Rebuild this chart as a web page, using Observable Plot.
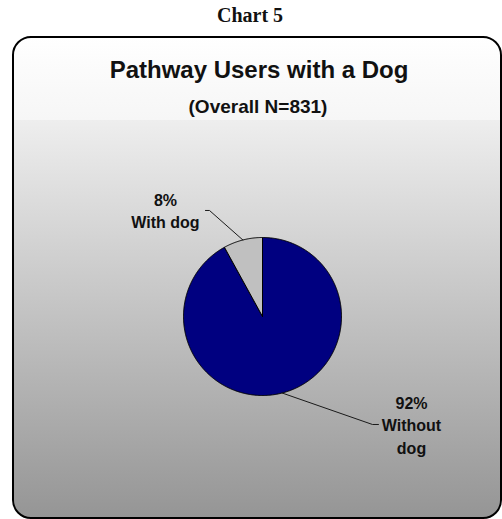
<!DOCTYPE html>
<html>
<head>
<meta charset="utf-8">
<script src="https://cdn.jsdelivr.net/npm/d3@7"></script>
<script src="https://cdn.jsdelivr.net/npm/@observablehq/plot@0.6"></script>
<style>
  html, body { margin: 0; padding: 0; background: #ffffff; }
  #wrap { position: relative; width: 502px; height: 519px; overflow: hidden; }
  #top { position: absolute; left: 0; top: 0; width: 502px; height: 30px;
         font-family: "Liberation Serif", "Times New Roman", serif; font-weight: bold;
         font-size: 20px; line-height: 20px; }
  #top span { position: absolute; left: 0; width: 500px; text-align: center; top: 5px; color: #111; }
  #chart { position: absolute; left: 0; top: 30px; }
</style>
</head>
<body>
<div id="wrap">
  <div id="top"><span>Chart 5</span></div>
  <div id="chart"></div>
</div>
<script>
// ---- data ----
const categories = ["Without dog", "With dog"];
const percents = [92, 8];
const labelTexts = ["92%\nWithout\ndog", "8%\nWith dog"];
const sliceColors = ["#000080", "#c0c0c0"];
const chartTitle = "Pathway Users with a Dog";
const chartSubtitle = "(Overall N=831)";

// ---- layout (unit-circle coordinates, pie radius = 1) ----
const labelPos = [[1.886, -1.361], [-1.228, 1.348]];
const leaderElbows = [[[1.392, -1.367], [1.468, -1.367]], [[-0.671, 1.342], [-0.722, 1.342]]];

const arcs = d3.pie().sort(null).startAngle(0).endAngle(2 * Math.PI)(percents);

const slicePolys = arcs.map((a, i) => {
  const pts = [{x: 0, y: 0}];
  const n = Math.max(8, Math.ceil((a.endAngle - a.startAngle) / 0.01));
  for (let k = 0; k <= n; k++) {
    const t = a.startAngle + (a.endAngle - a.startAngle) * k / n;
    pts.push({x: Math.sin(t), y: Math.cos(t)});
  }
  pts.push({x: 0, y: 0});
  return {name: categories[i], color: sliceColors[i], pts};
});

const leaders = arcs.map((a, i) => {
  const m = (a.startAngle + a.endAngle) / 2;
  return [{x: Math.sin(m), y: Math.cos(m)},
          ...leaderElbows[i].map(([x, y]) => ({x, y}))];
});

const labels = arcs.map((a, i) => ({x: labelPos[i][0], y: labelPos[i][1], text: labelTexts[i]}));

const W = 502, H = 489;
const cx = 262, cy = 286, r = 79;

const plot = Plot.plot({
  width: W,
  height: H,
  margin: 0,
  style: {background: "transparent", overflow: "visible"},
  x: {domain: [-1, 1], range: [cx - r, cx + r], axis: null},
  y: {domain: [-1, 1], range: [cy + r, cy - r], axis: null},
  marks: [
    ...slicePolys.map(s => Plot.line(s.pts, {x: "x", y: "y", fill: s.color, stroke: "#000", strokeWidth: 1, curve: "linear", strokeLinejoin: "miter"})),
    ...leaders.map(l => Plot.line(l, {x: "x", y: "y", stroke: "#1a1a1a", strokeWidth: 1})),
    Plot.text(labels, {x: "x", y: "y", text: "text", fontSize: 16, fontWeight: "bold",
      fontFamily: "'Liberation Sans', Arial, sans-serif", lineHeight: 1.4, lineAnchor: "middle",
      textAnchor: "middle", fill: "#111"})
  ]
});

// background panel with gradient (decoration), inserted behind the marks
const svg = d3.select(plot);
const defs = svg.insert("defs", ":first-child");
const g = defs.append("linearGradient").attr("id", "bgGrad")
  .attr("x1", 0).attr("y1", 0).attr("x2", 0).attr("y2", 1);
[["0", "#ffffff"], ["0.05", "#fcfcfc"], ["0.172", "#f6f6f6"], ["0.1725", "#eeeeee"], ["1", "#959595"]]
  .forEach(([o, c]) => g.append("stop").attr("offset", o).attr("stop-color", c));
svg.insert("rect", "defs + *")
  .attr("x", 13).attr("y", 7).attr("width", 488).attr("height", 481)
  .attr("rx", 18).attr("ry", 18)
  .attr("fill", "url(#bgGrad)").attr("stroke", "#000").attr("stroke-width", 2);

svg.append("text").attr("x", 259).attr("y", 48).attr("text-anchor", "middle")
  .attr("font-family", "'Liberation Sans', Arial, sans-serif").attr("font-weight", "bold")
  .attr("font-size", 24).attr("fill", "#111").text(chartTitle);
svg.append("text").attr("x", 258).attr("y", 83).attr("text-anchor", "middle")
  .attr("font-family", "'Liberation Sans', Arial, sans-serif").attr("font-weight", "bold")
  .attr("font-size", 19).attr("fill", "#111").text(chartSubtitle);

document.getElementById("chart").appendChild(plot);
</script>
</body>
</html>
